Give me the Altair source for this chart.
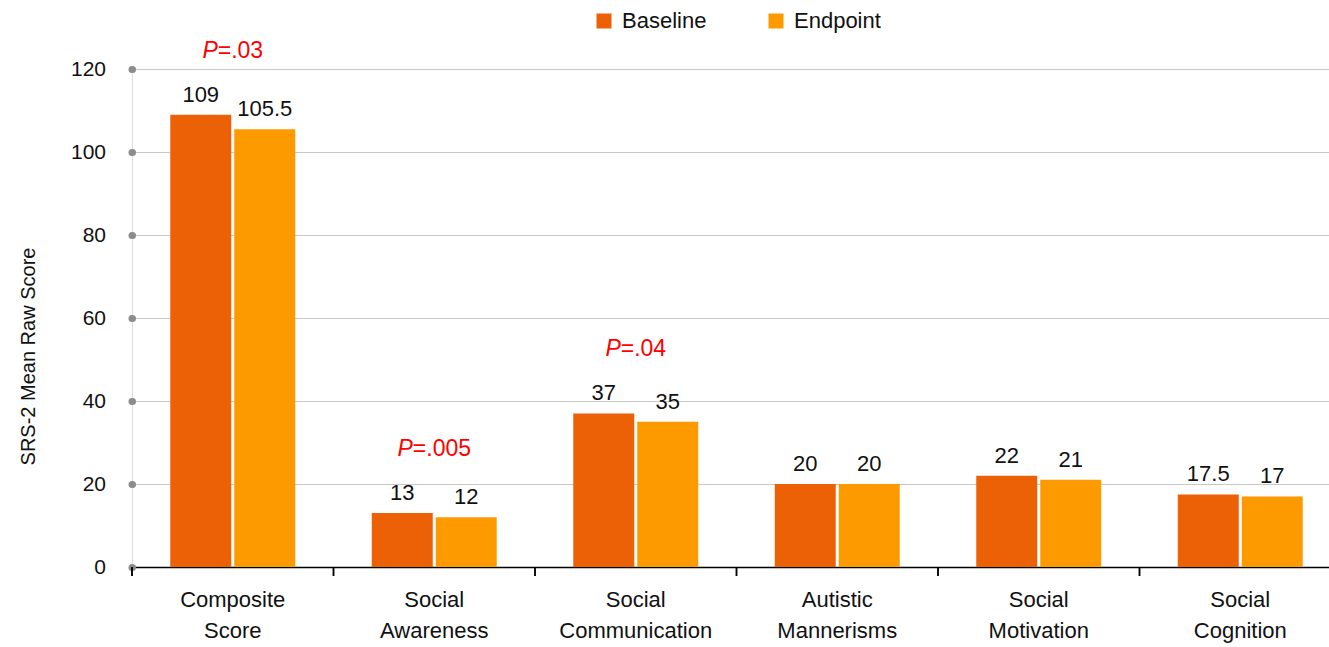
import altair as alt
import pandas as pd

# SRS-2 subscale means at baseline and endpoint
categories = [
    "Composite Score",
    "Social Awareness",
    "Social Communication",
    "Autistic Mannerisms",
    "Social Motivation",
    "Social Cognition",
]
baseline = [109, 13, 37, 20, 22, 17.5]
endpoint = [105.5, 12, 35, 20, 21, 17]
series = ["Baseline", "Endpoint"]
colors = ["#EC6105", "#FD9A00"]

# significance annotations (category -> p value text)
p_categories = ["Composite Score", "Social Awareness", "Social Communication"]
p_texts = [".03", ".005", ".04"]

y_ticks = [0, 20, 40, 60, 80, 100, 120]

FONT = "Liberation Sans"
FS = 22

rows = []
for cat, b, e in zip(categories, baseline, endpoint):
    rows.append({"category": cat, "series": "Baseline", "value": b, "label": f"{b:g}"})
    rows.append({"category": cat, "series": "Endpoint", "value": e, "label": f"{e:g}"})
df = pd.DataFrame(rows)

x_enc = alt.X(
    "category:N",
    sort=categories,
    scale=alt.Scale(paddingInner=0, paddingOuter=0, range=[0, 1209]),
    axis=alt.Axis(
        title=None,
        ticks=False,
        labelAngle=0,
        labelExpr="split(datum.label, ' ')",
        labelFont=FONT,
        labelFontSize=FS,
        labelLineHeight=31,
        labelPadding=22,
        labelColor="#111111",
        domainColor="#000000",
        domainWidth=1.5,
    ),
)
xoff_enc = alt.XOffset(
    "series:N", sort=series, scale=alt.Scale(paddingInner=0.047, paddingOuter=0.598)
)
y_enc = alt.Y(
    "value:Q",
    scale=alt.Scale(domain=[0, 120], nice=False),
    axis=alt.Axis(
        values=y_ticks,
        title="SRS-2 Mean Raw Score",
        titleFont=FONT,
        titleFontSize=20,
        titleFontWeight="normal",
        titleColor="#111111",
        titleX=-104,
        titleY=287,
        titleBaseline="middle",
        grid=True,
        gridColor="#C8C8C8",
        gridWidth=1,
        domain=False,
        tickCap="round",
        tickWidth=7,
        tickSize=0.5,
        tickColor="#8C8C8C",
        labelFont=FONT,
        labelFontSize=21,
        labelColor="#111111",
        labelPadding=26,
    ),
)

base = alt.Chart(df)

bars = base.mark_bar().encode(
    x=x_enc,
    xOffset=xoff_enc,
    y=y_enc,
    color=alt.Color(
        "series:N",
        sort=series,
        scale=alt.Scale(domain=series, range=colors),
        legend=alt.Legend(
            title=None,
            orient="none",
            legendX=461,
            legendY=-59,
            direction="horizontal",
            symbolType="square",
            symbolSize=225,
            symbolStrokeWidth=0,
            labelFont=FONT,
            labelFontSize=FS,
            labelColor="#111111",
            labelOffset=7,
            columnPadding=58,
            padding=0,
        ),
    ),
)

value_labels = base.mark_text(
    font=FONT, fontSize=FS, color="#111111", baseline="alphabetic", dy=-13
).encode(x=x_enc, xOffset=xoff_enc, y=y_enc, text="label:N")

tick_marks = base.mark_rule(color="#000000", strokeWidth=1.5).encode(
    x=alt.X("category:N", sort=categories, bandPosition=0),
    y=alt.value(498),
    y2=alt.value(507),
)

# glyph widths (in em) for centring the mixed italic/regular annotation
glyph_w = {"P": 0.667, "=": 0.584, ".": 0.278}
PFS = 23


def text_width(s):
    return sum(glyph_w.get(c, 0.556) for c in s) * PFS


p_layers = []
for cat, ptxt in zip(p_categories, p_texts):
    top = max(v for c, v in zip(df["category"], df["value"]) if c == cat)
    pdf = pd.DataFrame({"category": [cat], "value": [top], "rest": ["=" + ptxt]})
    w_p = text_width("P")
    w_r = text_width("=" + ptxt)
    split = -(w_p + w_r) / 2 + w_p
    pc = alt.Chart(pdf)
    p_layers.append(
        pc.mark_text(
            font=FONT, fontSize=PFS, fontStyle="italic", color="#FF0000",
            align="right", baseline="alphabetic", dx=split, dy=-57,
        ).encode(x=alt.X("category:N", sort=categories), y="value:Q", text=alt.value("P"))
    )
    p_layers.append(
        pc.mark_text(
            font=FONT, fontSize=PFS, color="#FF0000",
            align="left", baseline="alphabetic", dx=split, dy=-57,
        ).encode(x=alt.X("category:N", sort=categories), y="value:Q", text="rest:N")
    )

chart = (
    alt.layer(bars, value_labels, tick_marks, *p_layers)
    .properties(
        width=1197,
        height=498,
        autosize=alt.AutoSizeParams(type="none"),
        padding={"left": 132, "top": 69, "right": 0, "bottom": 76},
    )
    .configure_view(stroke=None)
    .configure(font=FONT)
)

chart.save("out.html", embed_options={"renderer": "svg", "actions": False})
